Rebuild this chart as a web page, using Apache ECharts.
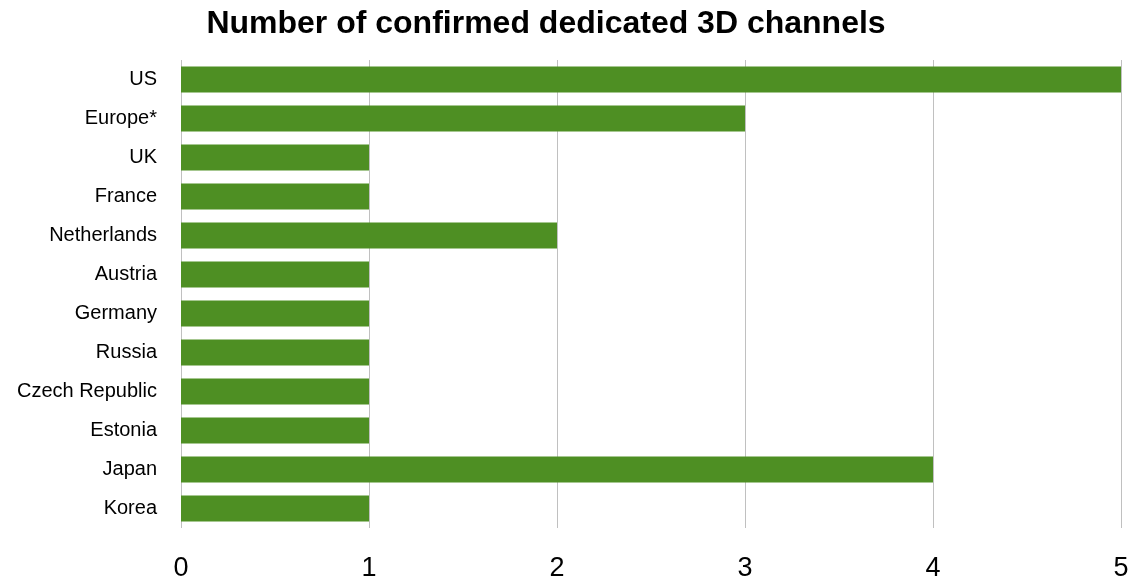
<!DOCTYPE html>
<html><head><meta charset="utf-8">
<script src="https://cdn.jsdelivr.net/npm/echarts@6/dist/echarts.min.js"></script>
<style>html,body{margin:0;padding:0;background:#fff}#c{width:1130px;height:580px}</style>
</head><body><div id="c"></div>
<script>
const categories = ["US","Europe*","UK","France","Netherlands","Austria","Germany","Russia","Czech Republic","Estonia","Japan","Korea"];
const channels = [5,3,1,1,2,1,1,1,1,1,4,1];
const xTicks = [0,1,2,3,4,5];

const chart = echarts.init(document.getElementById('c'), null, {renderer:'canvas'});
chart.setOption({
  animation:false,
  backgroundColor:'#ffffff',
  title:{text:'Number of confirmed dedicated 3D channels', left:541, textAlign:'center', top:3,
    textStyle:{fontFamily:'Liberation Sans, Arial, sans-serif', fontWeight:'bold', fontSize:32, color:'#000'}},
  grid:{left:181, right:9, top:60, bottom:52, containLabel:false, outerBoundsMode:'none'},
  xAxis:{type:'value', min:xTicks[0], max:xTicks[xTicks.length-1], interval:1,
    axisLine:{show:false}, axisTick:{show:false},
    splitLine:{show:true, lineStyle:{color:'#c0c0c0', width:1}},
    axisLabel:{fontFamily:'Liberation Sans, Arial, sans-serif', fontSize:27, color:'#000', margin:27}},
  yAxis:{type:'category', data:categories, inverse:true,
    axisLine:{show:false}, axisTick:{show:false},
    axisLabel:{fontFamily:'Liberation Sans, Arial, sans-serif', fontSize:20, color:'#000', margin:24}},
  series:[{type:'bar', data:channels, barWidth:26, itemStyle:{color:'#4e8f23'}}]
});
</script></body></html>
